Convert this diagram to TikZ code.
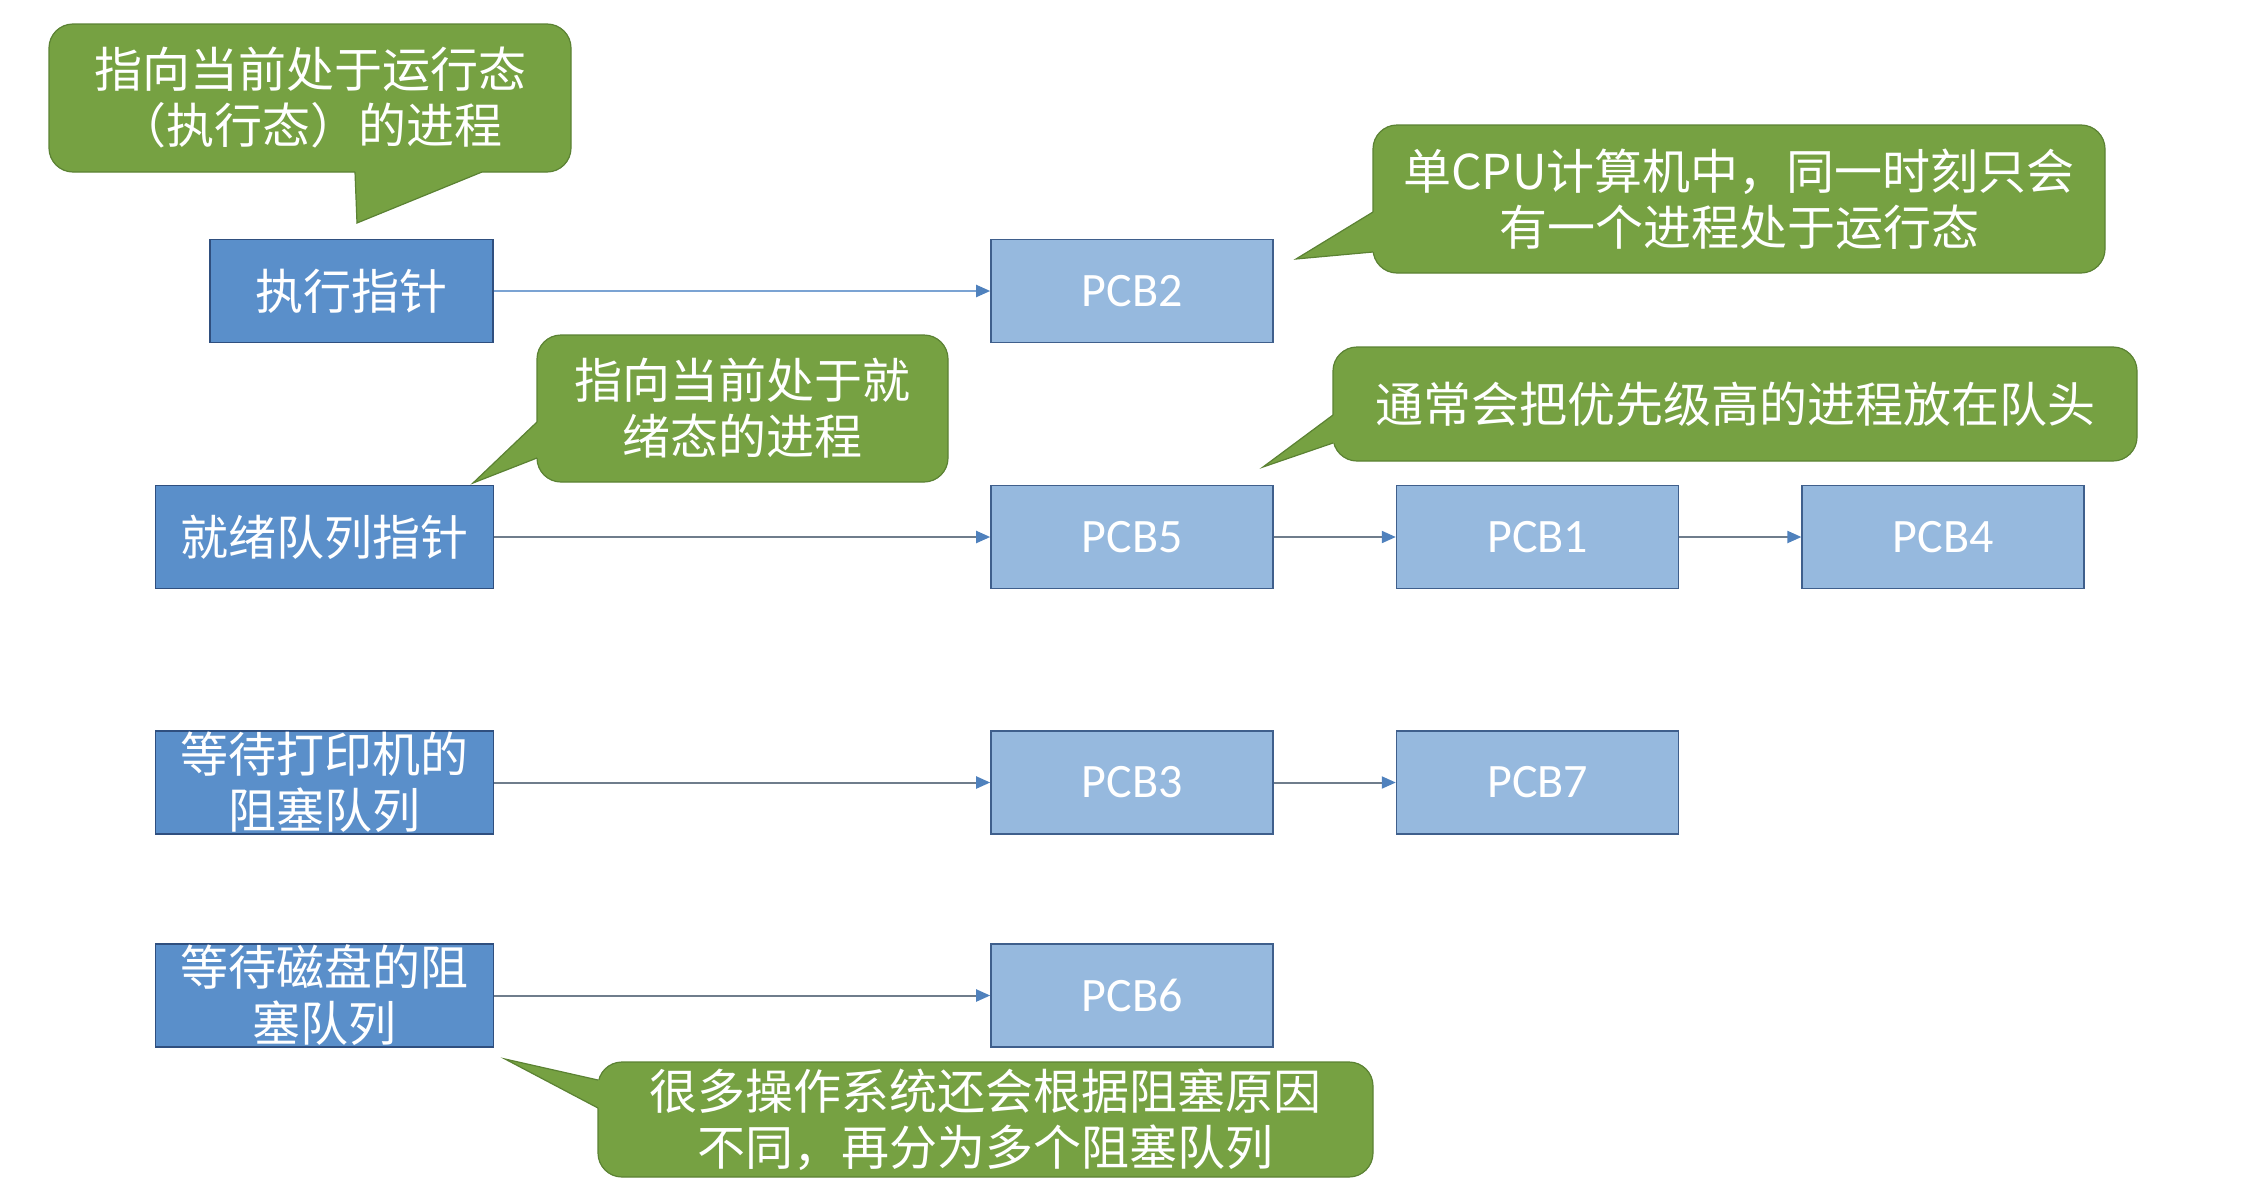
\documentclass[tikz,border=0pt]{standalone}
\usepackage{fontspec}
\newfontfamily\cjk{Noto Sans CJK SC}
\newfontfamily\pcbfont{Carlito}
\usetikzlibrary{arrows.meta,positioning}
\definecolor{ptrblue}{HTML}{5A8FCA}
\definecolor{ptrline}{HTML}{2F4F7F}
\definecolor{pcbblue}{HTML}{96B9DE}
\definecolor{pcbline}{HTML}{3F5F8C}
\definecolor{notegreen}{HTML}{76A142}
\definecolor{noteline}{HTML}{5B8233}
\definecolor{arrgray}{HTML}{6F7D8C}
\definecolor{arrblue}{HTML}{4F81BD}
\definecolor{arrlight}{HTML}{7BA3D3}

\begin{document}
\begin{tikzpicture}[x=0.5pt,y=-0.5pt,font=\cjk\fontsize{24}{28}\selectfont,
 ptr/.style={draw=ptrline,fill=ptrblue,text=white,align=center,minimum width=169pt,minimum height=51.5pt,inner sep=0pt,line width=0.8pt},
 pcb/.style={draw=pcbline,fill=pcbblue,text=white,font=\pcbfont\fontsize{24}{28}\selectfont,minimum width=141pt,minimum height=51.5pt,inner sep=0pt,line width=0.8pt},
 note/.style={draw=noteline,fill=notegreen,text=white,align=center,rounded corners=12pt,inner sep=0pt,line width=0.6pt},
 arr/.style={draw=arrgray,line width=1pt,-{Triangle[length=7pt,width=6pt,color=arrblue]}}]
\useasboundingbox (0,0) rectangle (2242,1183);
% pointers and queues
\node[ptr,minimum width=141.5pt] (run) at (351.5,291) {执行指针};
\node[ptr] (ready) at (324.5,537) {就绪队列指针};
\node[ptr] (print) at (324.5,782.5) {等待打印机的\\阻塞队列};
\node[ptr] (disk) at (324.5,995.5) {等待磁盘的阻\\塞队列};
\node[pcb] (pcb2) at (1132,291) {PCB2};
\node[pcb] (pcb5) at (1132,537) {PCB5};
\node[pcb,right=61pt of pcb5] (pcb1) {PCB1};
\node[pcb,right=61pt of pcb1] (pcb4) {PCB4};
\node[pcb] (pcb3) at (1132,782.5) {PCB3};
\node[pcb,right=61pt of pcb3] (pcb7) {PCB7};
\node[pcb] (pcb6) at (1132,995.5) {PCB6};
\draw[arr,draw=arrlight] (run)--(pcb2);
\draw[arr] (ready)--(pcb5);\draw[arr] (pcb5)--(pcb1);\draw[arr] (pcb1)--(pcb4);
\draw[arr] (print)--(pcb3);\draw[arr] (pcb3)--(pcb7);
\draw[arr] (disk)--(pcb6);
% callouts
\node[note,minimum width=261pt,minimum height=74pt] (n1) at (310,98) {指向当前处于运行态\\（执行态）的进程};
\fill[notegreen] (355,168)--(355,172)--(357,223)--(482,172)--(482,168)--cycle;
\draw[noteline,line width=0.6pt] (355,172)--(357,223)--(482,172);
\node[note,minimum width=366pt,minimum height=74pt] (n2) at (1739,199) {单CPU计算机中，同一时刻只会\\有一个进程处于运行态};
\fill[notegreen] (1377,212)--(1373,212)--(1296,259)--(1373,252)--(1377,252)--cycle;
\draw[noteline,line width=0.6pt] (1373,212)--(1296,259)--(1373,252);
\node[note,minimum width=205.5pt,minimum height=73.5pt] (n3) at (742.5,408.5) {指向当前处于就\\绪态的进程};
\fill[notegreen] (541,422)--(537,422)--(473,483)--(537,458)--(541,458)--cycle;
\draw[noteline,line width=0.6pt] (537,422)--(473,483)--(537,458);
\node[note,minimum width=402pt,minimum height=57pt] (n4) at (1735,404) {通常会把优先级高的进程放在队头};
\fill[notegreen] (1337,415)--(1333,415)--(1263,467)--(1333,443)--(1337,443)--cycle;
\draw[noteline,line width=0.6pt] (1333,415)--(1263,467)--(1333,443);
\node[note,minimum width=387.5pt,minimum height=57.5pt] (n5) at (985.5,1119.5) {很多操作系统还会根据阻塞原因\\不同，再分为多个阻塞队列};
\fill[notegreen] (602,1080)--(598,1080)--(505,1059)--(598,1108)--(602,1108)--cycle;
\draw[noteline,line width=0.6pt] (598,1080)--(505,1059)--(598,1108);
\end{tikzpicture}
\end{document}
